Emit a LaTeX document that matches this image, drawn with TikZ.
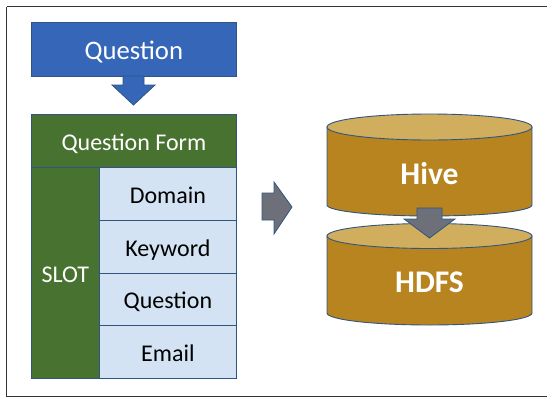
\documentclass[tikz,border=0pt]{standalone}
\usepackage{fontspec}
\setmainfont{Carlito}
\definecolor{qblue}{HTML}{3566B8}
\definecolor{qgreen}{HTML}{47722F}
\definecolor{qlight}{HTML}{D4E3F3}
\definecolor{qgold}{HTML}{B8841F}
\definecolor{qtop}{HTML}{D1AE5E}
\definecolor{qgray}{HTML}{6D7079}
\definecolor{qline}{HTML}{2F5580}
\tikzset{
  x=1pt,y=-1pt,
  boxbase/.style={draw=qline,line width=0.8pt,minimum width=#1,inner sep=0pt,anchor=north west},
  bluebox/.style={boxbase=205pt,fill=qblue,minimum height=54pt,text=white,font=\fontsize{26.7}{30}\selectfont,text height=21pt,text depth=1pt},
  formbox/.style={boxbase=205pt,fill=qgreen,minimum height=53pt,text=white,font=\fontsize{24}{28}\selectfont,text height=20pt,text depth=1pt},
  slotbox/.style={boxbase=68pt,fill=qgreen,minimum height=211pt,text=white,font=\fontsize{24}{28}\selectfont,text height=20pt,text depth=1pt},
  cellbox/.style={boxbase=137pt,fill=qlight,minimum height=52.75pt,text=black,font=\fontsize{24}{28}\selectfont,text height=20pt,text depth=1pt},
  blockarrow/.style={draw=qline,line width=0.8pt,line join=miter},
  cylside/.style={draw=qline,line width=0.9pt,fill=qgold},
  cyltop/.style={draw=qline,line width=0.9pt,fill=qtop},
  dbtext/.style={text=white,font=\fontsize{31.5}{36}\selectfont\bfseries,inner sep=0pt},
}
\begin{document}
\begin{tikzpicture}
\useasboundingbox (0,0) rectangle (547,397);
\fill[white] (0,0) rectangle (547,397);
\draw[line width=1.5pt,draw=black!80] (6.5,6.5) -- (547,6.5);
\draw[line width=1.5pt,draw=black!80] (6.5,6.5) -- (6.5,396.3) -- (547,396.3);
% question
\node[bluebox] (q) at (31,22) {Question};
\draw[blockarrow,fill=qblue] (123,76) -- (144,76) -- (144,85) -- (155,85) -- (133.5,105) -- (112,85) -- (123,85) -- cycle;
% form
\node[formbox] (form) at (31,114) {Question Form};
\node[slotbox] (slot) at (31,167) {SLOT};
\node[cellbox] (c1) at (99,167) {Domain};
\node[cellbox] (c2) at (99,219.75) {Keyword};
\node[cellbox] (c3) at (99,272.5) {Question};
\node[cellbox] (c4) at (99,325.25) {Email};
% right arrow
\draw[blockarrow,fill=qgray] (262,193) -- (274,193) -- (274,182) -- (292,207) -- (274,234) -- (274,220) -- (262,220) -- cycle;
% Hive
\draw[cylside] (327,127) -- (327,205) arc[start angle=180,end angle=360,x radius=102.5,y radius=-11] -- (532,127) -- cycle;
\draw[cyltop] (429.5,127) ellipse[x radius=102.5,y radius=13];
\node[dbtext] (hive) at (429.5,174) {Hive};
% HDFS
\draw[cylside] (327,236) -- (327,313) arc[start angle=180,end angle=360,x radius=102.5,y radius=-12] -- (532,236) -- cycle;
\draw[cyltop] (429.5,236) ellipse[x radius=102.5,y radius=12.5];
\node[dbtext] (hdfs) at (429.5,282) {HDFS};
% arrow between
\draw[blockarrow,fill=qgray] (417,208) -- (442,208) -- (442,219) -- (455,219) -- (429.5,238) -- (404,219) -- (417,219) -- cycle;
\end{tikzpicture}
\end{document}
